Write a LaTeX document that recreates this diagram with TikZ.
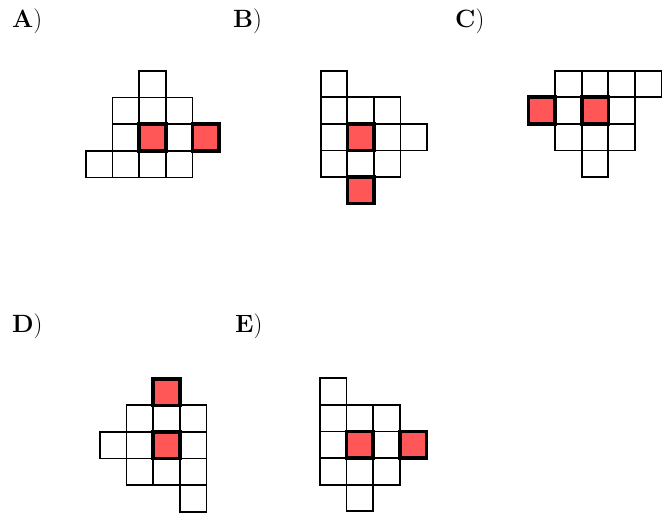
\documentclass[tikz,border=0pt]{standalone}
\usepackage{fontspec}
\definecolor{cellred}{HTML}{FF5757}
\begin{document}
\begin{tikzpicture}[x=1pt,y=-1pt,
  wcell/.style={draw=black,line width=1.7pt,fill=white},
  rcell/.style={draw=black,line width=3.6pt,fill=cellred},
  lab/.style={anchor=base west,inner sep=0pt,font=\fontsize{25}{30}\selectfont}]
\useasboundingbox (0,0) rectangle (670,513);
\def\cs{26.6}
% labels
\node[lab] (labA) at (12,27.7) {\textbf{A})};
\node[lab] (labB) at (233,27.7) {\textbf{B})};
\node[lab] (labC) at (455,27.7) {\textbf{C})};
\node[lab] (labD) at (12,333) {\textbf{D})};
\node[lab] (labE) at (235,333) {\textbf{E})};
% A
\begin{scope}[shift={(86,71)}]
  \foreach \c/\r in {2/0,1/1,2/1,3/1,1/2,3/2,0/3,1/3,2/3,3/3}
    \draw[wcell] (\c*\cs,\r*\cs) rectangle ++(\cs,\cs);
  \foreach \c/\r in {2/2,4/2}
    \draw[rcell] (\c*\cs,\r*\cs) rectangle ++(\cs,\cs);
\end{scope}
% B
\begin{scope}[shift={(320.7,70.7)}]
  \foreach \c/\r in {0/0,0/1,1/1,2/1,0/2,2/2,3/2,0/3,1/3,2/3}
    \draw[wcell] (\c*\cs,\r*\cs) rectangle ++(\cs,\cs);
  \foreach \c/\r in {1/2,1/4}
    \draw[rcell] (\c*\cs,\r*\cs) rectangle ++(\cs,\cs);
\end{scope}
% C
\begin{scope}[shift={(528.5,70.7)}]
  \foreach \c/\r in {1/0,2/0,3/0,4/0,1/1,3/1,1/2,2/2,3/2,2/3}
    \draw[wcell] (\c*\cs,\r*\cs) rectangle ++(\cs,\cs);
  \foreach \c/\r in {0/1,2/1}
    \draw[rcell] (\c*\cs,\r*\cs) rectangle ++(\cs,\cs);
\end{scope}
% D
\begin{scope}[shift={(100,378.7)}]
  \foreach \c/\r in {1/1,2/1,3/1,0/2,1/2,3/2,1/3,2/3,3/3,3/4}
    \draw[wcell] (\c*\cs,\r*\cs) rectangle ++(\cs,\cs);
  \foreach \c/\r in {2/0,2/2}
    \draw[rcell] (\c*\cs,\r*\cs) rectangle ++(\cs,\cs);
\end{scope}
% E
\begin{scope}[shift={(320,378.3)}]
  \foreach \c/\r in {0/0,0/1,1/1,2/1,0/2,2/2,0/3,1/3,2/3,1/4}
    \draw[wcell] (\c*\cs,\r*\cs) rectangle ++(\cs,\cs);
  \foreach \c/\r in {1/2,3/2}
    \draw[rcell] (\c*\cs,\r*\cs) rectangle ++(\cs,\cs);
\end{scope}
\end{tikzpicture}
\end{document}
